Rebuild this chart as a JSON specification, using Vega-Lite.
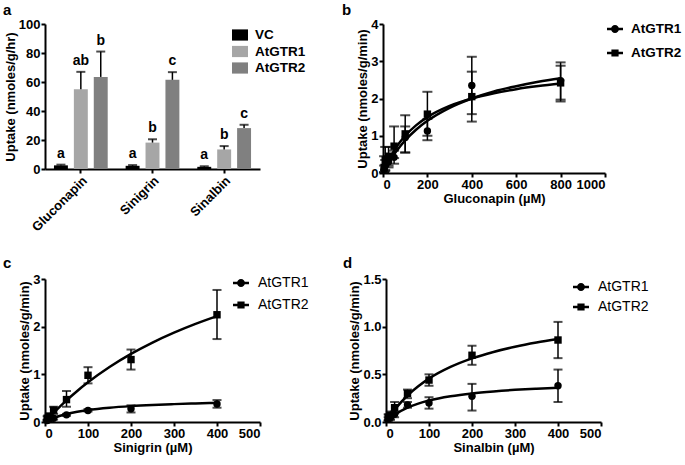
{
  "$schema": "https://vega.github.io/schema/vega-lite/v6.json",
  "background": "white",
  "padding": {"left": 3, "top": 3, "right": 2, "bottom": 2},
  "datasets": {
    "bars": [
      {"substrate": "Gluconapin", "group": "VC", "uptake": 2.5, "hi": 3, "sig": "a"},
      {"substrate": "Gluconapin", "group": "AtGTR1", "uptake": 55, "hi": 67, "sig": "ab"},
      {"substrate": "Gluconapin", "group": "AtGTR2", "uptake": 63.5, "hi": 81, "sig": "b"},
      {"substrate": "Sinigrin", "group": "VC", "uptake": 2.2, "hi": 2.7, "sig": "a"},
      {"substrate": "Sinigrin", "group": "AtGTR1", "uptake": 18.2, "hi": 20.5, "sig": "b"},
      {"substrate": "Sinigrin", "group": "AtGTR2", "uptake": 61.5, "hi": 66.8, "sig": "c"},
      {"substrate": "Sinalbin", "group": "VC", "uptake": 1.5, "hi": 1.9, "sig": "a"},
      {"substrate": "Sinalbin", "group": "AtGTR1", "uptake": 13.5, "hi": 15.8, "sig": "b"},
      {"substrate": "Sinalbin", "group": "AtGTR2", "uptake": 28.2, "hi": 30.5, "sig": "c"}
    ],
    "legend_keys": [
      {"series": "AtGTR1"},
      {"series": "AtGTR2"}
    ],
    "b_pts": [
      {"series": "AtGTR1", "conc": 5, "uptake": 0.1, "lo": 0.02, "hi": 0.2},
      {"series": "AtGTR1", "conc": 10, "uptake": 0.2, "lo": 0.08, "hi": 0.35},
      {"series": "AtGTR1", "conc": 25, "uptake": 0.3, "lo": 0.15, "hi": 0.45},
      {"series": "AtGTR1", "conc": 50, "uptake": 0.42, "lo": 0.25, "hi": 0.6},
      {"series": "AtGTR1", "conc": 100, "uptake": 0.95, "lo": 0.55, "hi": 1.25},
      {"series": "AtGTR1", "conc": 200, "uptake": 1.13, "lo": 0.88, "hi": 1.45},
      {"series": "AtGTR1", "conc": 400, "uptake": 2.35, "lo": 1.58, "hi": 3.12},
      {"series": "AtGTR1", "conc": 800, "uptake": 2.48, "lo": 1.92, "hi": 2.97},
      {"series": "AtGTR2", "conc": 5, "uptake": 0.15, "lo": 0.02, "hi": 0.45},
      {"series": "AtGTR2", "conc": 10, "uptake": 0.35, "lo": 0.05, "hi": 0.7},
      {"series": "AtGTR2", "conc": 25, "uptake": 0.45, "lo": 0.2, "hi": 0.7},
      {"series": "AtGTR2", "conc": 50, "uptake": 0.72, "lo": 0.4, "hi": 1.25},
      {"series": "AtGTR2", "conc": 100, "uptake": 1.05, "lo": 0.55, "hi": 1.55},
      {"series": "AtGTR2", "conc": 200, "uptake": 1.58, "lo": 1.0, "hi": 2.18},
      {"series": "AtGTR2", "conc": 400, "uptake": 2.05, "lo": 1.38, "hi": 2.72},
      {"series": "AtGTR2", "conc": 800, "uptake": 2.42, "lo": 1.97, "hi": 2.88}
    ],
    "b_fit": [
      {"series": "AtGTR1", "conc": 0, "uptake": 0},
      {"series": "AtGTR1", "conc": 10, "uptake": 0.113},
      {"series": "AtGTR1", "conc": 25, "uptake": 0.269},
      {"series": "AtGTR1", "conc": 50, "uptake": 0.5},
      {"series": "AtGTR1", "conc": 75, "uptake": 0.7},
      {"series": "AtGTR1", "conc": 100, "uptake": 0.875},
      {"series": "AtGTR1", "conc": 150, "uptake": 1.167},
      {"series": "AtGTR1", "conc": 200, "uptake": 1.4},
      {"series": "AtGTR1", "conc": 300, "uptake": 1.75},
      {"series": "AtGTR1", "conc": 400, "uptake": 2.0},
      {"series": "AtGTR1", "conc": 500, "uptake": 2.19},
      {"series": "AtGTR1", "conc": 600, "uptake": 2.33},
      {"series": "AtGTR1", "conc": 700, "uptake": 2.45},
      {"series": "AtGTR1", "conc": 800, "uptake": 2.545},
      {"series": "AtGTR2", "conc": 0, "uptake": 0},
      {"series": "AtGTR2", "conc": 10, "uptake": 0.143},
      {"series": "AtGTR2", "conc": 25, "uptake": 0.333},
      {"series": "AtGTR2", "conc": 50, "uptake": 0.6},
      {"series": "AtGTR2", "conc": 75, "uptake": 0.818},
      {"series": "AtGTR2", "conc": 100, "uptake": 1.0},
      {"series": "AtGTR2", "conc": 150, "uptake": 1.286},
      {"series": "AtGTR2", "conc": 200, "uptake": 1.5},
      {"series": "AtGTR2", "conc": 300, "uptake": 1.8},
      {"series": "AtGTR2", "conc": 400, "uptake": 2.0},
      {"series": "AtGTR2", "conc": 500, "uptake": 2.143},
      {"series": "AtGTR2", "conc": 600, "uptake": 2.25},
      {"series": "AtGTR2", "conc": 700, "uptake": 2.333},
      {"series": "AtGTR2", "conc": 800, "uptake": 2.4}
    ],
    "c_pts": [
      {"series": "AtGTR1", "conc": 5, "uptake": 0.03, "lo": 0.01, "hi": 0.05},
      {"series": "AtGTR1", "conc": 10, "uptake": 0.05, "lo": 0.03, "hi": 0.07},
      {"series": "AtGTR1", "conc": 20, "uptake": 0.08, "lo": 0.05, "hi": 0.11},
      {"series": "AtGTR1", "conc": 50, "uptake": 0.15, "lo": 0.13, "hi": 0.17},
      {"series": "AtGTR1", "conc": 100, "uptake": 0.24, "lo": 0.22, "hi": 0.27},
      {"series": "AtGTR1", "conc": 200, "uptake": 0.28, "lo": 0.2, "hi": 0.35},
      {"series": "AtGTR1", "conc": 400, "uptake": 0.38, "lo": 0.3, "hi": 0.46},
      {"series": "AtGTR2", "conc": 5, "uptake": 0.08, "lo": 0.04, "hi": 0.12},
      {"series": "AtGTR2", "conc": 10, "uptake": 0.12, "lo": 0.06, "hi": 0.18},
      {"series": "AtGTR2", "conc": 20, "uptake": 0.25, "lo": 0.17, "hi": 0.32},
      {"series": "AtGTR2", "conc": 50, "uptake": 0.47, "lo": 0.32, "hi": 0.65},
      {"series": "AtGTR2", "conc": 100, "uptake": 0.98, "lo": 0.81, "hi": 1.15},
      {"series": "AtGTR2", "conc": 200, "uptake": 1.31, "lo": 1.1, "hi": 1.52},
      {"series": "AtGTR2", "conc": 400, "uptake": 2.25, "lo": 1.74, "hi": 2.77}
    ],
    "c_fit": [
      {"series": "AtGTR1", "conc": 0, "uptake": 0},
      {"series": "AtGTR1", "conc": 10, "uptake": 0.045},
      {"series": "AtGTR1", "conc": 20, "uptake": 0.083},
      {"series": "AtGTR1", "conc": 50, "uptake": 0.167},
      {"series": "AtGTR1", "conc": 75, "uptake": 0.214},
      {"series": "AtGTR1", "conc": 100, "uptake": 0.25},
      {"series": "AtGTR1", "conc": 150, "uptake": 0.3},
      {"series": "AtGTR1", "conc": 200, "uptake": 0.333},
      {"series": "AtGTR1", "conc": 250, "uptake": 0.357},
      {"series": "AtGTR1", "conc": 300, "uptake": 0.375},
      {"series": "AtGTR1", "conc": 350, "uptake": 0.389},
      {"series": "AtGTR1", "conc": 400, "uptake": 0.4},
      {"series": "AtGTR2", "conc": 0, "uptake": 0},
      {"series": "AtGTR2", "conc": 10, "uptake": 0.098},
      {"series": "AtGTR2", "conc": 20, "uptake": 0.192},
      {"series": "AtGTR2", "conc": 50, "uptake": 0.455},
      {"series": "AtGTR2", "conc": 75, "uptake": 0.652},
      {"series": "AtGTR2", "conc": 100, "uptake": 0.833},
      {"series": "AtGTR2", "conc": 150, "uptake": 1.154},
      {"series": "AtGTR2", "conc": 200, "uptake": 1.429},
      {"series": "AtGTR2", "conc": 250, "uptake": 1.667},
      {"series": "AtGTR2", "conc": 300, "uptake": 1.875},
      {"series": "AtGTR2", "conc": 350, "uptake": 2.059},
      {"series": "AtGTR2", "conc": 400, "uptake": 2.222}
    ],
    "d_pts": [
      {"series": "AtGTR1", "conc": 5, "uptake": 0.03, "lo": 0.01, "hi": 0.05},
      {"series": "AtGTR1", "conc": 10, "uptake": 0.05, "lo": 0.02, "hi": 0.08},
      {"series": "AtGTR1", "conc": 20, "uptake": 0.08, "lo": 0.05, "hi": 0.11},
      {"series": "AtGTR1", "conc": 50, "uptake": 0.18, "lo": 0.15, "hi": 0.21},
      {"series": "AtGTR1", "conc": 100, "uptake": 0.2, "lo": 0.14, "hi": 0.26},
      {"series": "AtGTR1", "conc": 200, "uptake": 0.27, "lo": 0.12, "hi": 0.4},
      {"series": "AtGTR1", "conc": 400, "uptake": 0.38, "lo": 0.21, "hi": 0.55},
      {"series": "AtGTR2", "conc": 5, "uptake": 0.05, "lo": 0.02, "hi": 0.08},
      {"series": "AtGTR2", "conc": 10, "uptake": 0.07, "lo": 0.03, "hi": 0.11},
      {"series": "AtGTR2", "conc": 20, "uptake": 0.15, "lo": 0.09, "hi": 0.21},
      {"series": "AtGTR2", "conc": 50, "uptake": 0.3, "lo": 0.25, "hi": 0.34},
      {"series": "AtGTR2", "conc": 100, "uptake": 0.44, "lo": 0.38, "hi": 0.5},
      {"series": "AtGTR2", "conc": 200, "uptake": 0.7, "lo": 0.6, "hi": 0.8},
      {"series": "AtGTR2", "conc": 400, "uptake": 0.86, "lo": 0.67, "hi": 1.05}
    ],
    "d_fit": [
      {"series": "AtGTR1", "conc": 0, "uptake": 0},
      {"series": "AtGTR1", "conc": 10, "uptake": 0.041},
      {"series": "AtGTR1", "conc": 20, "uptake": 0.075},
      {"series": "AtGTR1", "conc": 50, "uptake": 0.15},
      {"series": "AtGTR1", "conc": 75, "uptake": 0.193},
      {"series": "AtGTR1", "conc": 100, "uptake": 0.225},
      {"series": "AtGTR1", "conc": 150, "uptake": 0.27},
      {"series": "AtGTR1", "conc": 200, "uptake": 0.3},
      {"series": "AtGTR1", "conc": 250, "uptake": 0.321},
      {"series": "AtGTR1", "conc": 300, "uptake": 0.3375},
      {"series": "AtGTR1", "conc": 350, "uptake": 0.35},
      {"series": "AtGTR1", "conc": 400, "uptake": 0.36},
      {"series": "AtGTR2", "conc": 0, "uptake": 0},
      {"series": "AtGTR2", "conc": 10, "uptake": 0.068},
      {"series": "AtGTR2", "conc": 20, "uptake": 0.128},
      {"series": "AtGTR2", "conc": 50, "uptake": 0.278},
      {"series": "AtGTR2", "conc": 75, "uptake": 0.375},
      {"series": "AtGTR2", "conc": 100, "uptake": 0.455},
      {"series": "AtGTR2", "conc": 150, "uptake": 0.577},
      {"series": "AtGTR2", "conc": 200, "uptake": 0.667},
      {"series": "AtGTR2", "conc": 250, "uptake": 0.735},
      {"series": "AtGTR2", "conc": 300, "uptake": 0.789},
      {"series": "AtGTR2", "conc": 350, "uptake": 0.833},
      {"series": "AtGTR2", "conc": 400, "uptake": 0.87}
    ]
  },
  "resolve": {"scale": {"shape": "independent", "color": "independent"}, "legend": {"shape": "independent", "color": "independent"}},
  "spacing": 255,
  "bounds": "flush",
  "vconcat": [
    {
      "spacing": 123,
      "bounds": "flush",
      "resolve": {"scale": {"shape": "independent", "color": "independent"}, "legend": {"shape": "independent", "color": "independent"}},
      "hconcat": [
        {
          "width": 215,
          "height": 145,
          "title": {"text": "a", "dx": -42, "dy": 4},
          "data": {"name": "bars"},
          "encoding": {
            "x": {"field": "substrate", "type": "nominal", "sort": ["Gluconapin", "Sinigrin", "Sinalbin"], "scale": {"paddingInner": 0, "paddingOuter": 0}, "axis": {"title": null, "labelAngle": -45, "labelAlign": "right", "labelBaseline": "top", "labelPadding": 1}},
            "xOffset": {"field": "group", "type": "nominal", "sort": ["VC", "AtGTR1", "AtGTR2"], "scale": {"paddingInner": 0.3, "paddingOuter": 0.45}},
            "y": {"field": "uptake", "type": "quantitative", "scale": {"domain": [0, 100]}, "axis": {"values": [0, 20, 40, 60, 80, 100], "title": "Uptake (nmoles/g/hr)"}}
          },
          "layer": [
            {
              "mark": {"type": "bar"},
              "encoding": {
                "color": {"field": "group", "type": "nominal", "sort": ["VC", "AtGTR1", "AtGTR2"], "scale": {"domain": ["VC", "AtGTR1", "AtGTR2"], "range": ["#000000", "#a6a6a6", "#808080"]},
                  "legend": {"title": null, "orient": "none", "legendX": 187, "legendY": 3, "symbolType": "M-1,-0.7H1V0.7H-1Z", "symbolSize": 256, "symbolStrokeWidth": 0, "symbolOpacity": 1, "rowPadding": 1.5, "labelOffset": 7, "labelFontSize": 13.5, "labelFontWeight": "bold", "labelFont": "Liberation Sans", "labelColor": "black", "padding": 0}}
              }
            },
            {"mark": {"type": "rule", "color": "black", "strokeWidth": 1.5}, "encoding": {"y2": {"field": "hi"}}},
            {"mark": {"type": "tick", "orient": "horizontal", "color": "black", "thickness": 2, "size": 9}, "encoding": {"y": {"field": "hi", "type": "quantitative"}}},
            {"mark": {"type": "text", "baseline": "alphabetic", "dy": -7, "fontWeight": "bold", "fontSize": 14, "font": "Liberation Sans", "color": "black"}, "encoding": {"y": {"field": "hi", "type": "quantitative"}, "text": {"field": "sig"}}}
          ]
        },
        {
          "width": 222,
          "height": 149,
          "title": {"text": "b", "dx": -41, "dy": 4},
          "resolve": {"scale": {"shape": "independent"}, "legend": {"shape": "independent"}},
          "encoding": {
            "x": {"field": "conc", "type": "quantitative", "scale": {"domain": [0, 1000]}, "axis": {"values": [0, 200, 400, 600, 800, 1000], "format": "d", "title": "Gluconapin (µM)"}},
            "y": {"field": "uptake", "type": "quantitative", "scale": {"domain": [0, 4]}, "axis": {"values": [0, 1, 2, 3, 4], "title": "Uptake (nmoles/g/min)"}}
          },
          "layer": [
            {"data": {"name": "b_fit"}, "mark": {"type": "line", "color": "black", "strokeWidth": 2.5, "interpolate": "monotone"}, "encoding": {"detail": {"field": "series"}}},
            {"data": {"name": "b_pts"}, "mark": {"type": "rule", "color": "black", "strokeWidth": 1.5}, "encoding": {"y": {"field": "lo", "type": "quantitative"}, "y2": {"field": "hi"}}},
            {"data": {"name": "b_pts"}, "mark": {"type": "tick", "orient": "horizontal", "color": "black", "thickness": 2, "size": 10}, "encoding": {"y": {"field": "lo", "type": "quantitative"}}},
            {"data": {"name": "b_pts"}, "mark": {"type": "tick", "orient": "horizontal", "color": "black", "thickness": 2, "size": 10}, "encoding": {"y": {"field": "hi", "type": "quantitative"}}},
            {"data": {"name": "b_pts"}, "mark": {"type": "point", "filled": true, "color": "black", "opacity": 1, "size": 55},
              "encoding": {"shape": {"field": "series", "type": "nominal", "scale": {"domain": ["AtGTR1", "AtGTR2"], "range": ["circle", "square"]}, "legend": null}}},
            {"data": {"name": "legend_keys"}, "mark": {"type": "point", "filled": true, "color": "black"},
              "encoding": {"x": {"field": "nox", "type": "quantitative"}, "y": {"field": "noy", "type": "quantitative"},
                "shape": {"field": "series", "type": "nominal", "scale": {"domain": ["AtGTR1", "AtGTR2"], "range": ["M-1,-0.15H-0.4V0.15H-1Z M0.4,-0.15H1V0.15H0.4Z M0.5,0A0.5,0.5,0,1,1,-0.5,0A0.5,0.5,0,1,1,0.5,0Z", "M-1,-0.15H-0.4V0.15H-1Z M0.4,-0.15H1V0.15H0.4Z M-0.45,-0.45H0.45V0.45H-0.45Z"]},
                  "legend": {"title": null, "orient": "none", "legendX": 224, "legendY": -3, "symbolSize": 256, "symbolFillColor": "black", "symbolStrokeColor": "black", "symbolStrokeWidth": 0, "symbolOpacity": 1, "rowPadding": 9, "labelOffset": 8, "labelFontSize": 13.5, "labelFontWeight": "bold", "labelFont": "Liberation Sans", "labelColor": "black", "padding": 0}}}}
          ]
        }
      ]
    },
    {
      "spacing": 126,
      "bounds": "flush",
      "resolve": {"scale": {"shape": "independent", "color": "independent"}, "legend": {"shape": "independent", "color": "independent"}},
      "hconcat": [
        {
          "width": 215,
          "height": 143,
          "title": {"text": "c", "dx": -42, "dy": 2},
          "resolve": {"scale": {"shape": "independent"}, "legend": {"shape": "independent"}},
          "encoding": {
            "x": {"field": "conc", "type": "quantitative", "scale": {"domain": [0, 500]}, "axis": {"values": [0, 100, 200, 300, 400, 500], "title": "Sinigrin (µM)"}},
            "y": {"field": "uptake", "type": "quantitative", "scale": {"domain": [0, 3]}, "axis": {"values": [0, 1, 2, 3], "title": "Uptake (nmoles/g/min)"}}
          },
          "layer": [
            {"data": {"name": "c_fit"}, "mark": {"type": "line", "color": "black", "strokeWidth": 2.5, "interpolate": "monotone"}, "encoding": {"detail": {"field": "series"}}},
            {"data": {"name": "c_pts"}, "mark": {"type": "rule", "color": "black", "strokeWidth": 1.5}, "encoding": {"y": {"field": "lo", "type": "quantitative"}, "y2": {"field": "hi"}}},
            {"data": {"name": "c_pts"}, "mark": {"type": "tick", "orient": "horizontal", "color": "black", "thickness": 2, "size": 9}, "encoding": {"y": {"field": "lo", "type": "quantitative"}}},
            {"data": {"name": "c_pts"}, "mark": {"type": "tick", "orient": "horizontal", "color": "black", "thickness": 2, "size": 9}, "encoding": {"y": {"field": "hi", "type": "quantitative"}}},
            {"data": {"name": "c_pts"}, "mark": {"type": "point", "filled": true, "color": "black", "opacity": 1, "size": 55},
              "encoding": {"shape": {"field": "series", "type": "nominal", "scale": {"domain": ["AtGTR1", "AtGTR2"], "range": ["circle", "square"]}, "legend": null}}},
            {"data": {"name": "legend_keys"}, "mark": {"type": "point", "filled": true, "color": "black"},
              "encoding": {"x": {"field": "nox", "type": "quantitative"}, "y": {"field": "noy", "type": "quantitative"},
                "shape": {"field": "series", "type": "nominal", "scale": {"domain": ["AtGTR1", "AtGTR2"], "range": ["M-1,-0.15H-0.4V0.15H-1Z M0.4,-0.15H1V0.15H0.4Z M0.5,0A0.5,0.5,0,1,1,-0.5,0A0.5,0.5,0,1,1,0.5,0Z", "M-1,-0.15H-0.4V0.15H-1Z M0.4,-0.15H1V0.15H0.4Z M-0.45,-0.45H0.45V0.45H-0.45Z"]},
                  "legend": {"title": null, "orient": "none", "legendX": 188, "legendY": -4, "symbolSize": 256, "symbolFillColor": "black", "symbolStrokeColor": "black", "symbolStrokeWidth": 0, "symbolOpacity": 1, "rowPadding": 7, "labelOffset": 9, "labelFontSize": 14, "labelFontWeight": "normal", "labelFont": "Liberation Sans", "labelColor": "black", "padding": 0}}}}
          ]
        },
        {
          "width": 215,
          "height": 143,
          "title": {"text": "d", "dx": -43, "dy": 2},
          "resolve": {"scale": {"shape": "independent"}, "legend": {"shape": "independent"}},
          "encoding": {
            "x": {"field": "conc", "type": "quantitative", "scale": {"domain": [0, 500]}, "axis": {"values": [0, 100, 200, 300, 400, 500], "title": "Sinalbin (µM)"}},
            "y": {"field": "uptake", "type": "quantitative", "scale": {"domain": [0, 1.5]}, "axis": {"values": [0, 0.5, 1, 1.5], "format": ".1f", "title": "Uptake (nmoles/g/min)"}}
          },
          "layer": [
            {"data": {"name": "d_fit"}, "mark": {"type": "line", "color": "black", "strokeWidth": 2.5, "interpolate": "monotone"}, "encoding": {"detail": {"field": "series"}}},
            {"data": {"name": "d_pts"}, "mark": {"type": "rule", "color": "black", "strokeWidth": 1.5}, "encoding": {"y": {"field": "lo", "type": "quantitative"}, "y2": {"field": "hi"}}},
            {"data": {"name": "d_pts"}, "mark": {"type": "tick", "orient": "horizontal", "color": "black", "thickness": 2, "size": 9}, "encoding": {"y": {"field": "lo", "type": "quantitative"}}},
            {"data": {"name": "d_pts"}, "mark": {"type": "tick", "orient": "horizontal", "color": "black", "thickness": 2, "size": 9}, "encoding": {"y": {"field": "hi", "type": "quantitative"}}},
            {"data": {"name": "d_pts"}, "mark": {"type": "point", "filled": true, "color": "black", "opacity": 1, "size": 55},
              "encoding": {"shape": {"field": "series", "type": "nominal", "scale": {"domain": ["AtGTR1", "AtGTR2"], "range": ["circle", "square"]}, "legend": null}}},
            {"data": {"name": "legend_keys"}, "mark": {"type": "point", "filled": true, "color": "black"},
              "encoding": {"x": {"field": "nox", "type": "quantitative"}, "y": {"field": "noy", "type": "quantitative"},
                "shape": {"field": "series", "type": "nominal", "scale": {"domain": ["AtGTR1", "AtGTR2"], "range": ["M-1,-0.15H-0.4V0.15H-1Z M0.4,-0.15H1V0.15H0.4Z M0.5,0A0.5,0.5,0,1,1,-0.5,0A0.5,0.5,0,1,1,0.5,0Z", "M-1,-0.15H-0.4V0.15H-1Z M0.4,-0.15H1V0.15H0.4Z M-0.45,-0.45H0.45V0.45H-0.45Z"]},
                  "legend": {"title": null, "orient": "none", "legendX": 187, "legendY": 0, "symbolSize": 256, "symbolFillColor": "black", "symbolStrokeColor": "black", "symbolStrokeWidth": 0, "symbolOpacity": 1, "rowPadding": 5, "labelOffset": 9, "labelFontSize": 14, "labelFontWeight": "normal", "labelFont": "Liberation Sans", "labelColor": "black", "padding": 0}}}}
          ]
        }
      ]
    }
  ],
  "config": {
    "font": "Liberation Sans",
    "view": {"stroke": null},
    "axis": {"domainColor": "black", "domainWidth": 2, "tickColor": "black", "tickWidth": 2, "tickSize": 4, "labelFont": "Liberation Sans", "labelFontWeight": "bold", "labelFontSize": 13, "labelColor": "black", "labelPadding": 1, "titleFont": "Liberation Sans", "titleFontWeight": "bold", "titleFontSize": 13, "titleColor": "black", "titlePadding": 1, "grid": false},
    "title": {"font": "Liberation Sans", "fontSize": 15, "fontWeight": "bold", "color": "black", "anchor": "start", "frame": "group", "baseline": "alphabetic", "offset": 0}
  }
}
